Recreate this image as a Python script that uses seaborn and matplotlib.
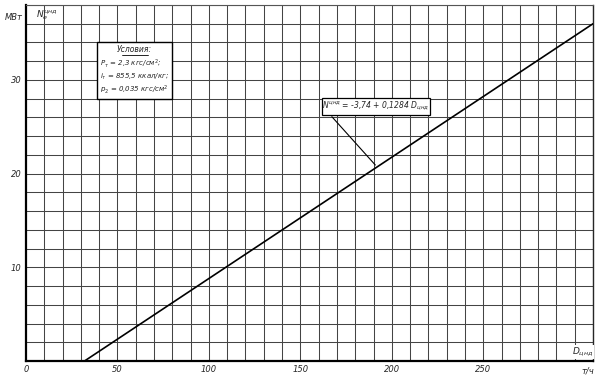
import matplotlib
matplotlib.use("Agg")
import matplotlib.pyplot as plt
import seaborn as sns
import pandas as pd
from matplotlib.patches import Rectangle

# Data
flow_d = [32, 310]          # D цнд, т/ч
power_n = [0.0, 36.0]       # N цнд, МВт
x_ticks = [0, 50, 100, 150, 200, 250]
x_tick_labels = ["0", "50", "100", "150", "200", "250"]
y_ticks = [10, 20, 30]
y_tick_labels = ["10", "20", "30"]

sns.set_style("white")
plt.rcParams['font.family'] = ['DejaVu Sans']
plt.rcParams['mathtext.fontset'] = 'dejavusans'

fig = plt.figure(figsize=(6.05, 3.8), dpi=100)
ax = fig.add_axes([26/605, 1-361/380, (593-26)/605, (361-5)/380])

df = pd.DataFrame({"D": flow_d, "N": power_n})
sns.lineplot(data=df, x="D", y="N", ax=ax, color="black", lw=1.2, zorder=3)

ax.set_xlim(0, 310)
ax.set_ylim(0, 38)

# grid
for gx in range(10, 311, 10):
    ax.axvline(gx, color="#444444", lw=0.75, zorder=1)
for gy in range(2, 39, 2):
    ax.axhline(gy, color="#444444", lw=0.75, zorder=1)

for s in ["left", "bottom"]:
    ax.spines[s].set_linewidth(1.6)
    ax.spines[s].set_color("black")
ax.spines["right"].set_linewidth(1.0)
ax.spines["top"].set_linewidth(0.8)
ax.spines["top"].set_color("#555555")

ax.set_xticks(x_ticks)
ax.set_xticklabels(x_tick_labels, fontsize=6, style="italic")
ax.set_yticks(y_ticks)
ax.set_yticklabels(y_tick_labels, fontsize=6, style="italic")
ax.tick_params(length=0, pad=3)
ax.set_xlabel("")
ax.set_ylabel("")

# Conditions box
ax.add_patch(Rectangle((39, 28.0), 40.8, 6.0, facecolor="white",
                       edgecolor="black", lw=1.0, zorder=4))
ax.text(59.5, 33.25, "Условия:", fontsize=5.5, style="italic", ha="center",
        va="center", zorder=5)
ax.plot([52.5, 66.5], [32.7, 32.7], color="black", lw=0.6, zorder=5)
ax.text(40.5, 31.7, r"$P_т$ = 2,3 кгс/см$^2$;", fontsize=5, style="italic",
        va="center", zorder=5)
ax.text(40.5, 30.35, r"$i_т$ = 855,5 ккал/кг;", fontsize=5, style="italic",
        va="center", zorder=5)
ax.text(40.5, 29.0, r"$p_2$ = 0,035 кгс/см$^2$", fontsize=5, style="italic",
        va="center", zorder=5)

# Equation label box
ax.add_patch(Rectangle((161.8, 26.3), 59.1, 1.8, facecolor="white",
                       edgecolor="black", lw=0.9, zorder=4))
ax.text(191.3, 27.2, r"$N^{цнд}$ = -3,74 + 0,1284 $D_{цнд}$", fontsize=5.5,
        style="italic", ha="center", va="center", zorder=5)
ax.annotate("", xy=(192, 20.7), xytext=(166.2, 26.3),
            arrowprops=dict(arrowstyle="-", color="black", lw=0.8), zorder=5)

# axis labels
fig.text(23/605, 1-17/380, "МВт", fontsize=6, style="italic", ha="right",
         va="center")
fig.text(47/605, 1-15/380, r"$N_e^{цнд}$", fontsize=6.5, ha="center",
         va="center")
fig.text(583/605, 1-352/380, r"$D_{цнд}$", fontsize=6.5, ha="center",
         va="center", bbox=dict(facecolor="white", edgecolor="none", pad=0.5))
fig.text(588/605, 1-371/380, "т/ч", fontsize=6, style="italic", ha="center",
         va="center")

fig.savefig("out.png", dpi=100, facecolor="white")
